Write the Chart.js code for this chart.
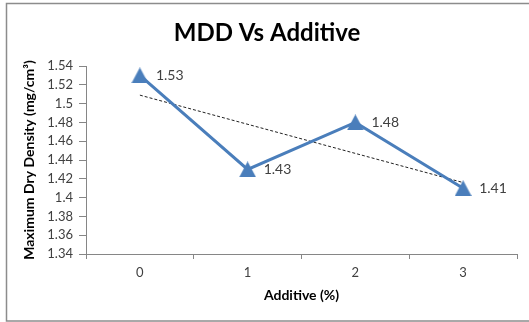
<!DOCTYPE html>
<html>
<head>
<meta charset="utf-8">
<script src="https://cdn.jsdelivr.net/npm/chart.js@4/dist/chart.umd.min.js"></script>
<style>
  html, body { margin: 0; padding: 0; background: #fff; }
  #wrap { width: 529px; height: 322px; position: relative; }
</style>
</head>
<body>
<div id="wrap"><canvas id="c" width="529" height="322"></canvas></div>
<script>
// Additive content (%) and measured maximum dry density
const additive = ['0', '1', '2', '3'];
const mdd = [1.53, 1.43, 1.48, 1.41];
// Linear trend line end values (at 0 % and 3 %)
const trend = [1.509, null, null, 1.416];
const yTicks = { min: 1.34, max: 1.54, step: 0.02 };

const chartTitle = 'MDD Vs Additive';
const xTitle = 'Additive (%)';
const yTitle = 'Maximum Dry Density (mg/cm³)';

const FONT = 'Lato, "Open Sans", sans-serif';
const BLUE = '#4a7ebb';

// triangle marker, centred on its bounding box
function triangleMarker(w, h, color) {
  const cv = document.createElement('canvas');
  cv.width = w; cv.height = h;
  const g = cv.getContext('2d');
  g.fillStyle = color;
  g.beginPath();
  g.moveTo(w / 2, 0);
  g.lineTo(w, h);
  g.lineTo(0, h);
  g.closePath();
  g.fill();
  return cv;
}
const marker = triangleMarker(17, 16, BLUE);

const decorations = {
  id: 'decorations',
  beforeDraw(chart) {
    const ctx = chart.ctx;
    ctx.save();
    ctx.fillStyle = '#fff';
    ctx.fillRect(0, 0, chart.width, chart.height);
    ctx.strokeStyle = '#8c8c8c';
    ctx.lineWidth = 1.5;
    ctx.strokeRect(6.5, 3.5, 540, 317.5);
    ctx.fillStyle = '#000';
    ctx.font = 'bold 24px ' + FONT;
    ctx.textAlign = 'center';
    ctx.textBaseline = 'middle';
    ctx.fillText(chartTitle, 267, 33);
    ctx.restore();
  },
  afterDatasetsDraw(chart) {
    const ctx = chart.ctx;
    const meta = chart.getDatasetMeta(0);
    ctx.save();
    ctx.fillStyle = '#404040';
    ctx.font = '14px ' + FONT;
    ctx.textAlign = 'left';
    ctx.textBaseline = 'middle';
    meta.data.forEach((pt, i) => {
      ctx.fillText(String(mdd[i]), pt.x + 16, pt.y);
    });
    ctx.restore();
  }
};

new Chart(document.getElementById('c'), {
  type: 'line',
  data: {
    labels: additive,
    datasets: [
      {
        label: 'MDD',
        data: mdd,
        borderColor: BLUE,
        borderWidth: 3,
        pointStyle: marker,
        pointRadius: 9,
        pointHoverRadius: 9,
        tension: 0,
        order: 1
      },
      {
        label: 'Linear trend',
        data: trend,
        spanGaps: true,
        borderColor: '#222',
        borderWidth: 1,
        borderDash: [3, 2],
        pointRadius: 0,
        pointHoverRadius: 0,
        tension: 0,
        order: 2
      }
    ]
  },
  options: {
    responsive: false,
    animation: false,
    events: [],
    layout: { padding: { top: 66, right: 10, left: 0, bottom: 0 } },
    plugins: {
      legend: { display: false },
      tooltip: { enabled: false },
      title: { display: false }
    },
    scales: {
      x: {
        type: 'category',
        offset: true,
        afterFit(scale) { scale.height = 68; },
        grid: {
          offset: true,
          drawOnChartArea: false,
          drawTicks: true,
          tickLength: 5,
          color: '#868686'
        },
        border: { color: '#868686', width: 1 },
        ticks: {
          color: '#404040',
          font: { family: FONT, size: 13 },
          padding: 6,
          maxRotation: 0
        },
        title: {
          display: true,
          text: xTitle,
          color: '#000',
          font: { family: FONT, size: 14, weight: 'bold' },
          padding: { top: 0, bottom: 18 }
        }
      },
      y: {
        min: yTicks.min,
        max: yTicks.max,
        afterFit(scale) { scale.width = 86; },
        afterBuildTicks(scale) {
          const t = [];
          for (let v = yTicks.min; v <= yTicks.max + 1e-9; v += yTicks.step) {
            t.push({ value: Math.round(v * 100) / 100 });
          }
          scale.ticks = t;
        },
        grid: {
          drawOnChartArea: false,
          drawTicks: true,
          tickLength: 7,
          color: '#868686'
        },
        border: { color: '#868686', width: 1 },
        ticks: {
          color: '#404040',
          font: { family: FONT, size: 13 },
          padding: 6,
          callback: (v) => String(Number(v.toFixed(2)))
        },
        title: {
          display: true,
          text: yTitle,
          color: '#000',
          font: { family: FONT, size: 14, weight: 'bold' },
          padding: { top: 21, bottom: 0 }
        }
      }
    }
  },
  plugins: [decorations]
});
</script>
</body>
</html>
